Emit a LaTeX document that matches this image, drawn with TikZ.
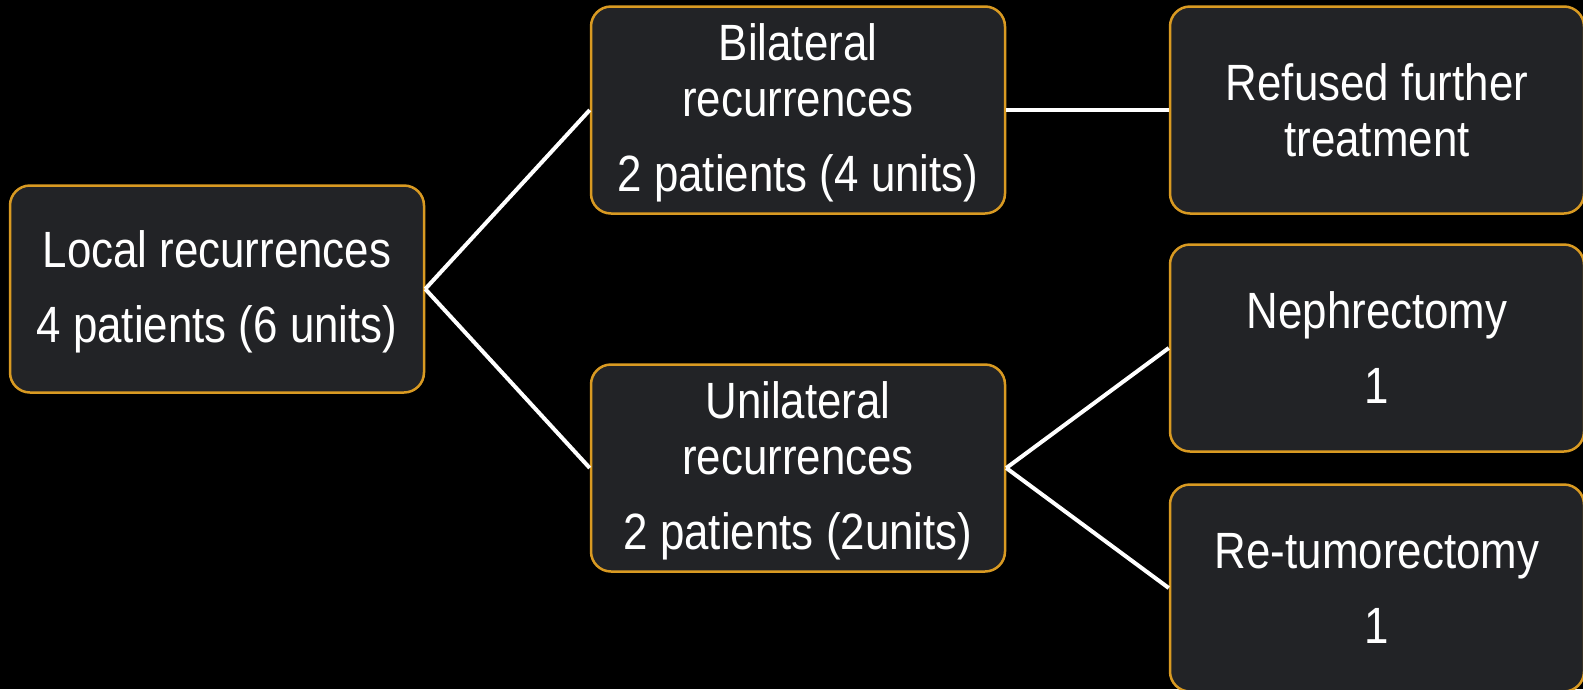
\documentclass[tikz,border=0pt]{standalone}
\usepackage{fontspec}
\newfontfamily\boxfont{Liberation Sans}[FakeStretch=0.86]
\definecolor{boxfill}{HTML}{222326}
\definecolor{boxedge}{HTML}{D99A22}
\newcommand\topstrut{\rule{0pt}{42pt}}
\begin{document}
\begin{tikzpicture}[x=1pt,y=-1pt,
    stagebox/.style={draw=boxedge, fill=boxfill, line width=2.5pt, rounded corners=20pt,
      minimum width=414pt, minimum height=207pt, align=center, text=white,
      font=\boxfont\fontsize{51}{56}\selectfont, inner sep=0pt},
    branch/.style={draw=white, line width=4pt}]
  % Background
  \useasboundingbox[fill=black] (0,0) rectangle (1583,689);

  % Draw the boxes
  \node[stagebox] (local) at (217,289) {\topstrut Local recurrences\\[19pt]4 patients (6 units)};
  \node[stagebox] (bilat) at (798,110) {\topstrut Bilateral\\recurrences\\[19pt]2 patients (4 units)};
  \node[stagebox] (unilat) at (798,468) {\topstrut Unilateral\\recurrences\\[19pt]2 patients (2units)};
  \node[stagebox] (refused) at (1377,110) {Refused further\\treatment};
  \node[stagebox] (nephr) at (1377,348) {Nephrectomy\\[19pt]1};
  \node[stagebox] (retumor) at (1377,588) {Re-tumorectomy\\[19pt]1};

  % Draw the branches
  \draw[branch] (local.east) -- (bilat.west);
  \draw[branch] (local.east) -- (unilat.west);
  \draw[branch] (bilat.east) -- (refused.west);
  \draw[branch] (unilat.east) -- (nephr.west);
  \draw[branch] (unilat.east) -- (retumor.west);
\end{tikzpicture}
\end{document}
